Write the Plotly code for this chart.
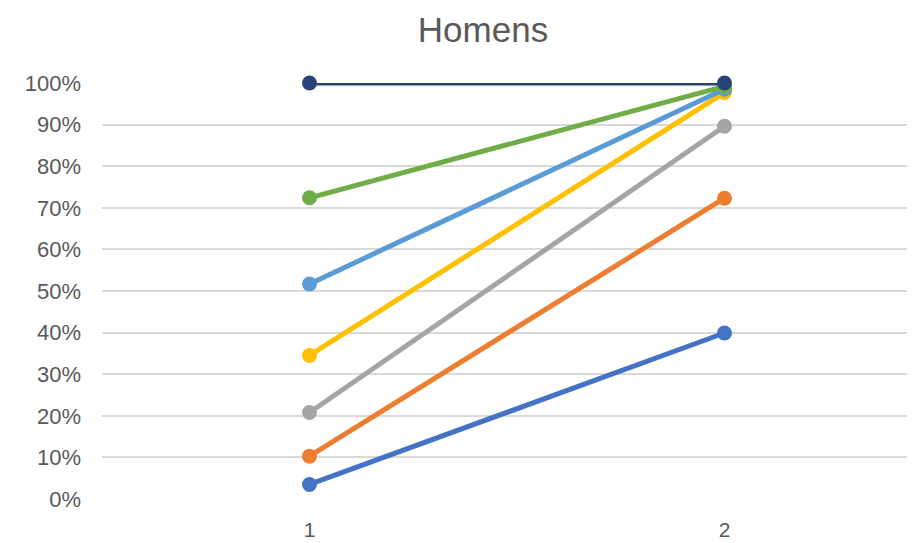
import plotly.graph_objects as go

categories = [1, 2]
series_names = ["S1", "S2", "S3", "S4", "S5", "S6", "S7"]
series_values = [
    [0.035, 0.399],
    [0.103, 0.723],
    [0.208, 0.896],
    [0.345, 0.977],
    [0.517, 0.985],
    [0.724, 0.992],
    [1.0, 1.0],
]
colors = ["#4472C4", "#ED7D31", "#A5A5A5", "#FFC000", "#5B9BD5", "#70AD47", "#264478"]
y_ticks = [i / 10 for i in range(11)]
y_tick_labels = [f"{i*10}%" for i in range(11)]

fig = go.Figure()
for name, vals, col in zip(series_names, series_values, colors):
    fig.add_trace(go.Scatter(
        x=categories, y=vals, name=name, mode="lines+markers",
        line=dict(color=col, width=5),
        marker=dict(color=col, size=15),
        cliponaxis=False,
    ))

fig.update_layout(
    width=907, height=535,
    margin=dict(l=94, r=0, t=75, b=44),
    paper_bgcolor="white", plot_bgcolor="white",
    showlegend=False,
    title=dict(text="Homens", x=475/907, xref="container", xanchor="center",
               y=1 - 22/535, yref="container", yanchor="middle",
               font=dict(family="Liberation Sans, Arial", size=35, color="#595959")),
    font=dict(family="Liberation Sans, Arial", size=22, color="#595959"),
)
fig.update_xaxes(
    range=[0.5, 0.5 + 813/415], tickvals=categories, ticktext=[str(c) for c in categories],
    showgrid=False, zeroline=False, showline=False, ticks="",
    ticklabelstandoff=16,
    tickfont=dict(size=21, color="#595959"),
)
fig.update_yaxes(
    range=[0, 1], tickvals=y_ticks, ticktext=y_tick_labels,
    showgrid=True, gridcolor="#D9D9D9", gridwidth=1.5, zeroline=False,
    showline=False, ticks="", ticklabelstandoff=20,
    tickfont=dict(size=22, color="#595959"),
)
fig.write_html("out.html")
